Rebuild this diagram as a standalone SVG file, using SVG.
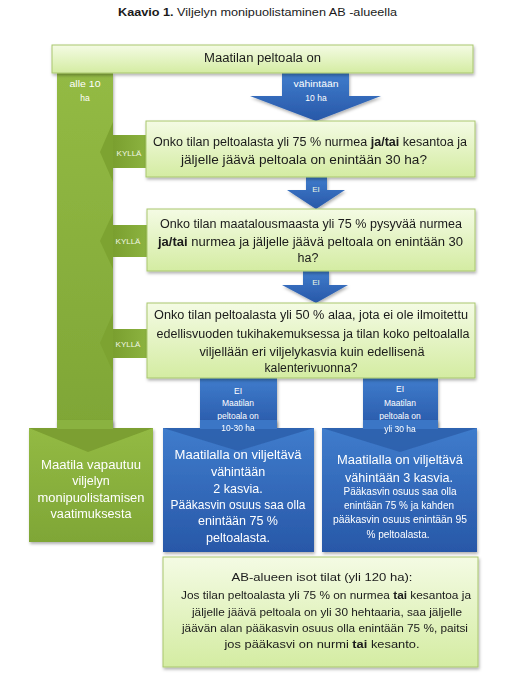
<svg xmlns="http://www.w3.org/2000/svg" width="522" height="685" viewBox="0 0 522 685">
<style>
text{font-family:"Liberation Sans",Arial,sans-serif;}
.t{font-size:10.5px;fill:#1a1a1a;}
.q{font-size:12.5px;fill:#1a1a1a;text-anchor:middle;}
.qs{font-size:11.5px;fill:#1a1a1a;text-anchor:middle;}
.w{font-size:12.5px;fill:#ffffff;text-anchor:middle;}
.ws{font-size:10px;fill:#ffffff;text-anchor:middle;}
.s{font-size:8.5px;fill:#ffffff;text-anchor:middle;}
.k{font-size:8px;fill:#f2f7e4;text-anchor:middle;}
.lg{fill:url(#lgG);stroke:#a9c76e;stroke-width:1;}
.gr{fill:url(#grG);}
.bl{fill:url(#blG);}
.b{font-weight:bold;}
</style>
<defs>
<linearGradient id="lgG" x1="0" y1="0" x2="0" y2="1"><stop offset="0" stop-color="#f4fbe4"/><stop offset="1" stop-color="#d4eca2"/></linearGradient>
<linearGradient id="grG" x1="0" y1="0" x2="0" y2="1"><stop offset="0" stop-color="#93ba44"/><stop offset="1" stop-color="#7fa636"/></linearGradient>
<linearGradient id="grH" x1="0" y1="0" x2="1" y2="0"><stop offset="0" stop-color="#7a9f2f"/><stop offset="1" stop-color="#8cb340"/></linearGradient>
<linearGradient id="blG" x1="0" y1="0" x2="0" y2="1"><stop offset="0" stop-color="#3f7ccc"/><stop offset="1" stop-color="#2858a8"/></linearGradient>
<filter id="sh" x="-10%" y="-10%" width="120%" height="130%"><feDropShadow dx="1" dy="2" stdDeviation="1.5" flood-color="#000" flood-opacity="0.3"/></filter>
</defs>

<text id="title" class="t" x="118" y="16" textLength="279" lengthAdjust="spacingAndGlyphs"><tspan class="b">Kaavio 1.</tspan> Viljelyn monipuolistaminen AB -alueella</text>

<g id="connectors">
  <g id="green-column" filter="url(#sh)">
    <rect class="gr" x="57" y="73" width="56" height="356"/>
  </g>
  <text class="s" x="85" y="87" textLength="31" lengthAdjust="spacingAndGlyphs">alle 10</text>
  <text class="s" x="85" y="101">ha</text>

  <g id="arrow-top" filter="url(#sh)">
    <polygon class="bl" points="282,73 349,73 349,96 381,96 316,121 250,96 282,96"/>
  </g>
  <text class="s" x="316" y="87" textLength="45" lengthAdjust="spacingAndGlyphs">vähintään</text>
  <text class="s" x="316" y="101">10 ha</text>

  <g id="arrow-ei1" filter="url(#sh)">
    <polygon class="bl" points="306,177 327,177 327,190 345,190 316,209 287,190 306,190"/>
  </g>
  <text class="k" x="316" y="192">EI</text>
  <g id="arrow-ei2" filter="url(#sh)">
    <polygon class="bl" points="303,271 329,271 329,285 348,285 316,303 282,285 303,285"/>
  </g>
  <text class="k" x="316" y="285">EI</text>

  <g id="arrow-kylla1">
    <rect x="113" y="135" width="34" height="33" fill="url(#grH)"/>
    <polygon points="113,122 113,182 100,152" fill="#7da331"/>
  </g>
  <text class="k" x="129" y="156">KYLLÄ</text>
  <g id="arrow-kylla2">
    <rect x="113" y="225" width="34" height="32" fill="url(#grH)"/>
    <polygon points="113,213 113,269 100,241" fill="#7da331"/>
  </g>
  <text class="k" x="128" y="244">KYLLÄ</text>
  <g id="arrow-kylla3">
    <rect x="113" y="329" width="34" height="29" fill="url(#grH)"/>
    <polygon points="113,313 113,372 100,343" fill="#7da331"/>
  </g>
  <text class="k" x="128" y="347">KYLLÄ</text>

  <g id="arrow-ei-left" filter="url(#sh)">
    <rect class="bl" x="200" y="378" width="77" height="52"/>
  </g>
  <text class="s" x="238" y="394">EI</text>
  <text class="s" x="238" y="406">Maatilan</text>
  <text class="s" x="238" y="419">peltoala on</text>
  <g id="arrow-ei-right" filter="url(#sh)">
    <rect class="bl" x="363" y="378" width="75" height="52"/>
  </g>
  <text class="s" x="400" y="392">EI</text>
  <text class="s" x="400" y="406">Maatilan</text>
  <text class="s" x="400" y="419">peltoala on</text>
</g>

<g id="n-top" filter="url(#sh)">
  <rect class="lg" x="52" y="45" width="421" height="28"/>
  <text class="q" x="262.5" y="62" textLength="117" lengthAdjust="spacingAndGlyphs">Maatilan peltoala on</text>
</g>

<g id="n-q1" filter="url(#sh)">
  <rect class="lg" x="146" y="121" width="329" height="56"/>
  <text class="q" x="310" y="146" textLength="314" lengthAdjust="spacingAndGlyphs">Onko tilan peltoalasta yli 75 % nurmea <tspan class="b">ja/tai</tspan> kesantoa ja</text>
  <text class="q" x="304" y="164" textLength="246" lengthAdjust="spacingAndGlyphs">jäljelle jäävä peltoala on enintään 30 ha?</text>
</g>

<g id="n-q2" filter="url(#sh)">
  <rect class="lg" x="147" y="209" width="328" height="62"/>
  <text class="q" x="311" y="228" textLength="302" lengthAdjust="spacingAndGlyphs">Onko tilan maatalousmaasta yli 75 % pysyvää nurmea</text>
  <text class="q" x="310.5" y="246" textLength="305" lengthAdjust="spacingAndGlyphs"><tspan class="b">ja/tai</tspan> nurmea ja jäljelle jäävä peltoala on enintään 30</text>
  <text class="q" x="308" y="262">ha?</text>
</g>

<g id="n-q3" filter="url(#sh)">
  <rect class="lg" x="147" y="303" width="328" height="75"/>
  <text class="q" x="311" y="319" textLength="314" lengthAdjust="spacingAndGlyphs">Onko tilan peltoalasta yli 50 % alaa, jota ei ole ilmoitettu</text>
  <text class="q" x="313" y="338" textLength="313" lengthAdjust="spacingAndGlyphs">edellisvuoden tukihakemuksessa ja tilan koko peltoalalla</text>
  <text class="q" x="312" y="356" textLength="225" lengthAdjust="spacingAndGlyphs">viljellään eri viljelykasvia kuin edellisenä</text>
  <text class="q" x="311" y="372" textLength="93" lengthAdjust="spacingAndGlyphs">kalenterivuonna?</text>
</g>

<g id="n-free" filter="url(#sh)">
  <rect class="gr" x="29" y="428" width="124" height="114"/>
  <polygon points="29,428 153,428 88,452" fill="#7b9f30"/>
  <rect x="57" y="420" width="56" height="9" fill="#8ab23f"/>
  <text class="w" x="91" y="469" textLength="100" lengthAdjust="spacingAndGlyphs">Maatila vapautuu</text>
  <text class="w" x="91" y="485">viljelyn</text>
  <text class="w" x="91" y="502" textLength="107" lengthAdjust="spacingAndGlyphs">monipuolistamisen</text>
  <text class="w" x="91" y="518" textLength="81" lengthAdjust="spacingAndGlyphs">vaatimuksesta</text>
</g>

<g id="n-10-30" filter="url(#sh)">
  <rect class="bl" x="163" y="428" width="151" height="124"/>
  <polygon points="163,428 314,428 238,451" fill="#2c5ea9" opacity="0.8"/>
  <rect x="200" y="420" width="77" height="9" fill="#3a76c6"/>
  <text class="s" x="238" y="431">10-30 ha</text>
  <text class="w" x="238" y="459" textLength="127" lengthAdjust="spacingAndGlyphs">Maatilalla on viljeltävä</text>
  <text class="w" x="238" y="476">vähintään</text>
  <text class="w" x="238" y="493">2 kasvia.</text>
  <text class="w" x="238" y="509" textLength="135" lengthAdjust="spacingAndGlyphs">Pääkasvin osuus saa olla</text>
  <text class="w" x="238" y="525" textLength="80" lengthAdjust="spacingAndGlyphs">enintään 75 %</text>
  <text class="w" x="238" y="542">peltoalasta.</text>
</g>

<g id="n-over30" filter="url(#sh)">
  <rect class="bl" x="322" y="428" width="155" height="124"/>
  <polygon points="322,428 477,428 400,452" fill="#2c5ea9" opacity="0.8"/>
  <rect x="363" y="420" width="75" height="9" fill="#3a76c6"/>
  <text class="s" x="400" y="432">yli 30 ha</text>
  <text class="w" x="400" y="464" textLength="126" lengthAdjust="spacingAndGlyphs">Maatilalla on viljeltävä</text>
  <text class="w" x="399" y="482" textLength="108" lengthAdjust="spacingAndGlyphs">vähintään 3 kasvia.</text>
  <text class="ws" x="400" y="495" textLength="113" lengthAdjust="spacingAndGlyphs">Pääkasvin osuus saa olla</text>
  <text class="ws" x="399" y="509" textLength="110" lengthAdjust="spacingAndGlyphs">enintään 75 % ja kahden</text>
  <text class="ws" x="400" y="523" textLength="134" lengthAdjust="spacingAndGlyphs">pääkasvin osuus enintään 95</text>
  <text class="ws" x="398" y="538" textLength="63" lengthAdjust="spacingAndGlyphs">% peltoalasta.</text>
</g>

<g id="n-large" filter="url(#sh)">
  <rect class="lg" x="163" y="557" width="315" height="110"/>
  <text class="qs" x="322" y="581" textLength="181" lengthAdjust="spacingAndGlyphs">AB-alueen isot tilat (yli 120 ha):</text>
  <text class="qs" x="326" y="599" textLength="290" lengthAdjust="spacingAndGlyphs">Jos tilan peltoalasta yli 75 % on nurmea <tspan class="b">tai</tspan> kesantoa ja</text>
  <text class="qs" x="327" y="616" textLength="270" lengthAdjust="spacingAndGlyphs">jäljelle jäävä peltoala on yli 30 hehtaaria, saa jäljelle</text>
  <text class="qs" x="325" y="632" textLength="286" lengthAdjust="spacingAndGlyphs">jäävän alan pääkasvin osuus olla enintään 75 %, paitsi</text>
  <text class="qs" x="322" y="648" textLength="195" lengthAdjust="spacingAndGlyphs">jos pääkasvi on nurmi <tspan class="b">tai</tspan> kesanto.</text>
</g>
</svg>
